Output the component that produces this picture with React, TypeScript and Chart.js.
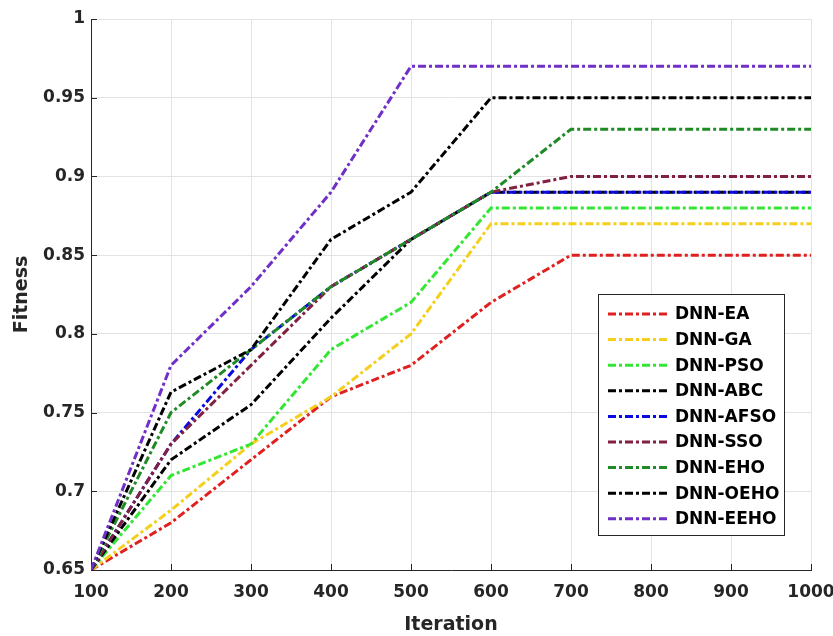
import React, { useEffect, useRef } from "react";
import { Chart, registerables } from "chart.js";

Chart.register(...registerables);

// ---- data ----
const iterations = [100, 200, 300, 400, 500, 600, 700, 800, 900, 1000];
const yTicks = [0.65, 0.7, 0.75, 0.8, 0.85, 0.9, 0.95, 1];

const seriesNames = [
  "DNN-EA",
  "DNN-GA",
  "DNN-PSO",
  "DNN-ABC",
  "DNN-AFSO",
  "DNN-SSO",
  "DNN-EHO",
  "DNN-OEHO",
  "DNN-EEHO",
];

const dnnEA = [0.65, 0.68, 0.72, 0.76, 0.78, 0.82, 0.85, 0.85, 0.85, 0.85];
const dnnGA = [0.65, 0.688, 0.73, 0.76, 0.8, 0.87, 0.87, 0.87, 0.87, 0.87];
const dnnPSO = [0.65, 0.71, 0.73, 0.79, 0.82, 0.88, 0.88, 0.88, 0.88, 0.88];
const dnnABC = [0.65, 0.72, 0.755, 0.81, 0.86, 0.89, 0.89, 0.89, 0.89, 0.89];
const dnnAFSO = [0.65, 0.73, 0.79, 0.83, 0.86, 0.89, 0.89, 0.89, 0.89, 0.89];
const dnnSSO = [0.65, 0.73, 0.78, 0.83, 0.86, 0.89, 0.9, 0.9, 0.9, 0.9];
const dnnEHO = [0.65, 0.75, 0.79, 0.83, 0.86, 0.89, 0.93, 0.93, 0.93, 0.93];
const dnnOEHO = [0.65, 0.763, 0.79, 0.86, 0.89, 0.95, 0.95, 0.95, 0.95, 0.95];
const dnnEEHO = [0.65, 0.78, 0.83, 0.89, 0.97, 0.97, 0.97, 0.97, 0.97, 0.97];

const seriesValues = [dnnEA, dnnGA, dnnPSO, dnnABC, dnnAFSO, dnnSSO, dnnEHO, dnnOEHO, dnnEEHO];

const seriesColors = [
  "#e0201f",
  "#f5cf1a",
  "#33e633",
  "#000000",
  "#0a0ae0",
  "#822040",
  "#1f8a26",
  "#000000",
  "#7030c8",
];

const FONT = "'DejaVu Sans', 'Liberation Sans', Arial, sans-serif";
const DASH = [8, 3, 3, 3];
const AXIS_COLOR = "#262626";

const inwardTicks = {
  id: "inwardTicks",
  beforeDatasetsDraw(chart: any) {
    const { ctx, chartArea, scales } = chart;
    const len = 6;
    ctx.save();
    ctx.strokeStyle = AXIS_COLOR;
    ctx.lineWidth = 1;
    ctx.beginPath();
    scales.x.ticks.forEach((t: any) => {
      const px = Math.round(scales.x.getPixelForValue(t.value)) + 0.5;
      ctx.moveTo(px, chartArea.bottom);
      ctx.lineTo(px, chartArea.bottom - len);
    });
    scales.y.ticks.forEach((t: any) => {
      const py = Math.round(scales.y.getPixelForValue(t.value)) + 0.5;
      ctx.moveTo(chartArea.left, py);
      ctx.lineTo(chartArea.left + len, py);
    });
    ctx.stroke();
    ctx.restore();
  },
};

const boxLegend = {
  id: "boxLegend",
  afterDatasetsDraw(chart: any) {
    const { ctx } = chart;
    const x0 = 598;
    const y0 = 294;
    const w = 186;
    const h = 241;
    ctx.save();
    ctx.fillStyle = "#ffffff";
    ctx.fillRect(x0, y0, w, h);
    ctx.strokeStyle = AXIS_COLOR;
    ctx.lineWidth = 1;
    ctx.strokeRect(x0 + 0.5, y0 + 0.5, w, h);
    chart.data.datasets.forEach((ds: any, i: number) => {
      const cy = y0 + 20 + i * 25.6;
      ctx.strokeStyle = ds.borderColor;
      ctx.lineWidth = 3;
      ctx.setLineDash(DASH);
      ctx.lineCap = "butt";
      ctx.beginPath();
      ctx.moveTo(x0 + 10, cy);
      ctx.lineTo(x0 + 72, cy);
      ctx.stroke();
      ctx.setLineDash([]);
      ctx.fillStyle = "#000000";
      ctx.font = `bold 17px ${FONT}`;
      ctx.textBaseline = "middle";
      ctx.textAlign = "left";
      ctx.fillText(ds.label, x0 + 77, cy + 1);
    });
    ctx.restore();
  },
};

export default function App() {
  const canvasRef = useRef<HTMLCanvasElement | null>(null);

  useEffect(() => {
    if (!canvasRef.current) return;
    const n = seriesNames.length;
    const chart = new Chart(canvasRef.current, {
      type: "line",
      data: {
        datasets: seriesNames.map((name, i) => ({
          label: name,
          data: iterations.map((x, j) => ({ x, y: seriesValues[i][j] })),
          borderColor: seriesColors[i],
          backgroundColor: seriesColors[i],
          borderWidth: 3,
          borderDash: DASH,
          borderCapStyle: "butt",
          borderJoinStyle: "miter",
          pointRadius: 0,
          pointHoverRadius: 0,
          fill: false,
          tension: 0,
          order: n - 1 - i,
        })),
      },
      options: {
        responsive: false,
        animation: false,
        devicePixelRatio: 1,
        layout: { padding: { top: 19, right: 22, left: 0, bottom: 0 } },
        plugins: {
          legend: { display: false },
          tooltip: { enabled: false },
        },
        scales: {
          x: {
            type: "linear",
            min: 100,
            max: 1000,
            afterBuildTicks: (s: any) => {
              s.ticks = iterations.map((v) => ({ value: v }));
            },
            ticks: {
              font: { family: FONT, size: 17, weight: "bold" },
              color: AXIS_COLOR,
              padding: 12,
              maxRotation: 0,
              autoSkip: false,
              callback: (v: any) => String(v),
            },
            grid: { color: "#e3e3e3", drawTicks: false },
            border: { color: AXIS_COLOR, width: 1 },
            title: {
              display: true,
              text: "Iteration",
              font: { family: FONT, size: 19, weight: "bold" },
              color: AXIS_COLOR,
              padding: { top: 0, bottom: 0 },
            },
            afterFit: (s: any) => {
              s.height = 66;
              s.paddingLeft = 0;
              s.paddingRight = 0;
            },
          },
          y: {
            type: "linear",
            min: 0.65,
            max: 1,
            afterBuildTicks: (s: any) => {
              s.ticks = yTicks.map((v) => ({ value: v }));
            },
            ticks: {
              font: { family: FONT, size: 17, weight: "bold" },
              color: AXIS_COLOR,
              padding: 6,
              autoSkip: false,
              callback: (v: any) => String(Math.round(Number(v) * 100) / 100),
            },
            grid: { color: "#e3e3e3", drawTicks: false },
            border: { color: AXIS_COLOR, width: 1 },
            title: {
              display: true,
              text: "Fitness",
              font: { family: FONT, size: 19, weight: "bold" },
              color: AXIS_COLOR,
              padding: { top: 11, bottom: 0 },
            },
            afterFit: (s: any) => {
              s.width = 91;
              s.paddingTop = 0;
              s.paddingBottom = 0;
            },
          },
        },
      } as any,
      plugins: [inwardTicks, boxLegend],
    });
    return () => chart.destroy();
  }, []);

  return (
    <div style={{ position: "absolute", left: 0, top: 0, width: 833, height: 636, background: "#ffffff" }}>
      <canvas ref={canvasRef} width={833} height={636} />
    </div>
  );
}
